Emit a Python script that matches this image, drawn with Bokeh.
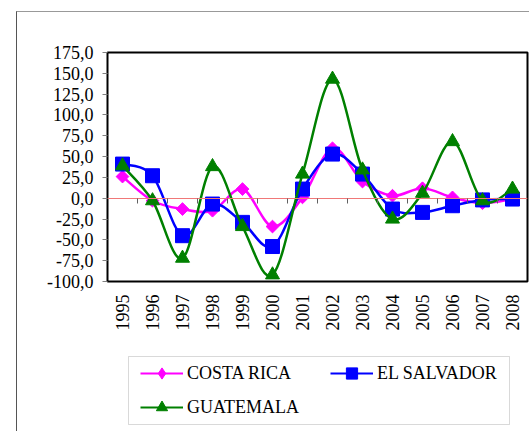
import numpy as np
from bokeh.plotting import figure
from bokeh.layouts import column
from bokeh.models import (Range1d, FixedTicker, LinearAxis, Legend, LegendItem,
                          ColumnDataSource, InlineStyleSheet, BoxAnnotation)
from bokeh.embed import file_html
from bokeh.resources import INLINE

years = ["1995", "1996", "1997", "1998", "1999", "2000", "2001",
         "2002", "2003", "2004", "2005", "2006", "2007", "2008"]
costa_rica = [26, -3, -13, -15, 11, -34, 1, 60, 20, 3, 12, 1, -6, -1]
el_salvador = [41, 27, -45, -7, -29, -58, 11, 53, 29, -13, -17, -9, -2, -1]
guatemala = [39, -3, -72, 38, -34, -92, 29, 143, 34, -25, 6, 68, -3, 11]
y_ticks = [-100, -75, -50, -25, 0, 25, 50, 75, 100, 125, 150, 175]

FONT = "'Liberation Serif'"

css = InlineStyleSheet(css="""
:host { position: relative; }
:host::after { content: ""; position: absolute; left: 16px; top: 11px;
  right: 0; bottom: 0; border-left: 1px solid #555; border-top: 1px solid #999;
  pointer-events: none; z-index: 10; }
""")

p = figure(width=529, height=340, output_backend="svg", toolbar_location=None,
           x_range=Range1d(-0.5, 13.5), y_range=Range1d(-100, 175),
           min_border_left=107, min_border_right=2, min_border_top=52,
           min_border_bottom=59)
p.background_fill_color = "white"
p.border_fill_color = "white"
p.outline_line_color = "black"
p.outline_line_width = 2
p.grid.visible = False

# y axis
p.yaxis.ticker = FixedTicker(ticks=y_ticks)
p.yaxis.major_label_overrides = {v: f"{v:.1f}".replace(".", ",") for v in y_ticks}
p.yaxis.axis_line_color = None
p.yaxis.major_tick_in = 0
p.yaxis.major_tick_out = 5
p.yaxis.major_tick_line_color = "#808080"
p.yaxis.minor_tick_line_color = None
p.yaxis.major_label_standoff = 9
p.yaxis.major_label_text_font = FONT
p.yaxis.major_label_text_font_size = "18px"
p.yaxis.major_label_text_color = "black"

# x axis (labels at bottom)
xs = list(range(len(years)))
p.xaxis.ticker = FixedTicker(ticks=xs)
p.xaxis.major_label_overrides = {i: y for i, y in enumerate(years)}
p.xaxis.axis_line_color = None
p.xaxis.major_tick_line_color = None
p.xaxis.minor_tick_line_color = None
p.xaxis.major_label_orientation = np.pi / 2
p.xaxis.major_label_standoff = 7
p.xaxis.major_label_text_font = FONT
p.xaxis.major_label_text_font_size = "18px"
p.xaxis.major_label_text_color = "black"

# zero axis with category-boundary ticks
bounds = [i + 0.5 for i in range(len(years) - 1)]
zero_axis = LinearAxis(fixed_location=0, ticker=FixedTicker(ticks=bounds),
                       axis_line_color="#F07878", axis_line_width=1,
                       major_tick_in=0, major_tick_out=5,
                       major_tick_line_color="#606060",
                       minor_tick_line_color=None,
                       major_label_overrides={b: "" for b in bounds})
p.add_layout(zero_axis, "below")


def smooth(vals):
    n = len(vals)
    P = [(float(i), float(v)) for i, v in enumerate(vals)]
    x0, y0, x1, y1, cx0, cy0, cx1, cy1 = ([] for _ in range(8))
    for i in range(n - 1):
        pm = P[max(i - 1, 0)]
        pa = P[i]
        pb = P[i + 1]
        pn = P[min(i + 2, n - 1)]
        x0.append(pa[0]); y0.append(pa[1])
        x1.append(pb[0]); y1.append(pb[1])
        cx0.append(pa[0] + (pb[0] - pm[0]) / 6); cy0.append(pa[1] + (pb[1] - pm[1]) / 6)
        cx1.append(pb[0] - (pn[0] - pa[0]) / 6); cy1.append(pb[1] - (pn[1] - pa[1]) / 6)
    return ColumnDataSource(dict(x0=x0, y0=y0, x1=x1, y1=y1,
                                 cx0=cx0, cy0=cy0, cx1=cx1, cy1=cy1))


series = [
    ("COSTA RICA", costa_rica, "#FF00FF", "square", 9, np.pi / 4, "diamond"),
    ("EL SALVADOR", el_salvador, "#0000FF", "square", 14, 0, "square"),
    ("GUATEMALA", guatemala, "#008000", "triangle", 14, 0, "triangle"),
]

# legend strip below the chart; its ranges are page pixels, so the series'
# own (legend-only) renderers lie out of view
q = figure(width=529, height=91, output_backend="svg", toolbar_location=None,
           x_range=Range1d(107, 527), y_range=Range1d(431, 340),
           min_border_left=0, min_border_right=0, min_border_top=0,
           min_border_bottom=0)
q.axis.visible = False
q.grid.visible = False
q.background_fill_color = "white"
q.border_fill_color = "white"
q.outline_line_color = None
q.add_layout(BoxAnnotation(left=128, right=509, top=356, bottom=424,
                           fill_alpha=0, line_color="#808080", line_width=1))

legend_items = {}
for name, vals, col, marker, size, ang, lg_marker in series:
    p.bezier(x0="x0", y0="y0", x1="x1", y1="y1", cx0="cx0", cy0="cy0",
             cx1="cx1", cy1="cy1", source=smooth(vals), line_color=col,
             line_width=2.5)
    p.scatter(xs, vals, marker=marker, size=size, angle=ang,
              fill_color=col, line_color=col)
    lg_line = q.line(x=xs, y=vals, line_color=col, line_width=2)
    lg_mark = q.scatter(x=xs, y=vals, marker=lg_marker, size=size,
                        fill_color=col, line_color=col)
    legend_items[name] = LegendItem(label=name, renderers=[lg_line, lg_mark])

common = dict(orientation="vertical", margin=0, padding=0, spacing=6,
              glyph_width=43, glyph_height=28, label_height=28,
              label_standoff=4, label_text_font=FONT,
              label_text_font_size="18px", label_text_color="black",
              border_line_color=None, background_fill_alpha=0)
leg_a = Legend(items=[legend_items["COSTA RICA"], legend_items["GUATEMALA"]],
               location=(33, 10), **common)
leg_b = Legend(items=[legend_items["EL SALVADOR"]], location=(223, 44), **common)
q.add_layout(leg_a, "center")
q.add_layout(leg_b, "center")

layout = column(p, q, spacing=0, stylesheets=[css])
open("out.html", "w").write(file_html(layout, INLINE))
